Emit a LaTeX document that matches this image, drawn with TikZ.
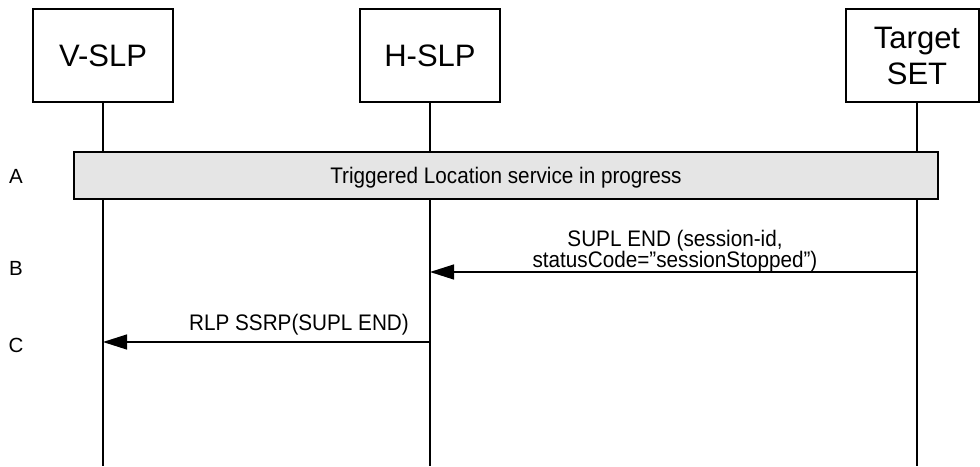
\documentclass[tikz,border=0pt]{standalone}
\usepackage{fontspec}
\setmainfont{Liberation Sans}
\newfontfamily\msgfont{Liberation Sans}[FakeStretch=0.92]
\newcommand{\tightlines}{\lineskiplimit=-20pt\relax}
\usetikzlibrary{arrows.meta,positioning}

\begin{document}
\begin{tikzpicture}[
  x=1pt, y=-1pt,
  actor/.style={draw, line width=1.1pt, minimum width=140pt,
                minimum height=93pt, inner sep=0pt, align=center,
                font=\fontsize{31}{36}\selectfont},
  life/.style={line width=1.1pt},
  msg/.style={-{Triangle[length=24pt,width=15pt]}, line width=1.3pt},
  phase/.style={draw, line width=1.1pt, fill=black!10, text depth=0pt,
                minimum width=864pt, minimum height=47pt, inner sep=0pt,
                font=\msgfont\fontsize{22.5}{19.5}\selectfont},
  tag/.style={inner sep=1pt,
              font=\msgfont\fontsize{22.5}{21}\selectfont\tightlines},
  every node/.style={font=\fontsize{20.5}{23.5}\selectfont}]

\useasboundingbox (0,0) rectangle (980,466);

% ---- the three entities and their lifelines ----------------------------
\node[actor] (vslp) at (103,55.5) {V-SLP};
\node[actor] (hslp) at (430,55.5) {H-SLP};
\node[actor, minimum width=133pt] (tset) at (912.5,55.5)
  {\hspace*{9pt}Target\\\hspace*{9pt}SET};
\coordinate (vslpEnd) at (103,466);
\coordinate (hslpEnd) at (430,466);
\coordinate (tsetTop) at (917,102);
\coordinate (tsetEnd) at (917,466);
\draw[life] (vslp.south) -- (vslpEnd);
\draw[life] (hslp.south) -- (hslpEnd);
\draw[life] (tsetTop) -- (tsetEnd);

% ---- step letters -------------------------------------------------------
\node (stepA) at (16,176) {A};
\node (stepB) at (16,268) {B};
\node (stepC) at (16,345) {C};

% ---- A: the running triggered session ---------------------------------
\node[phase] (prog) at (506,175.5) {Triggered Location service in progress};

% ---- B and C: the two messages ------------------------------------------
\coordinate (tsetB) at (917,272);
\coordinate (hslpB) at (430,272);
\coordinate (hslpC) at (430,342);
\coordinate (vslpC) at (103,342);
\draw[msg] (tsetB) -- (hslpB);
\node[tag, anchor=south, align=center] (endLbl) at (675,273)
  {SUPL END (session-id,\\statusCode=”sessionStopped”)};
\draw[msg] (hslpC) -- (vslpC);
\node[tag, anchor=base] (ssrpLbl) at (299,330) {RLP SSRP(SUPL END)};
\end{tikzpicture}
\end{document}
